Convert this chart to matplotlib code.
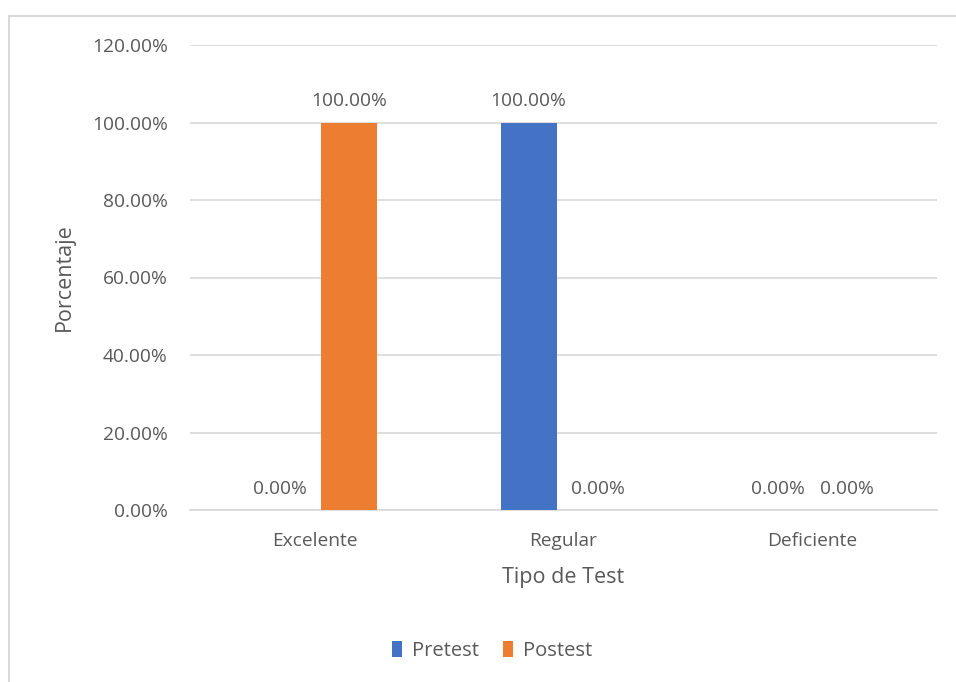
import matplotlib
matplotlib.use("Agg")
import matplotlib.pyplot as plt
from matplotlib.lines import Line2D
import numpy as np

categories = ["Excelente", "Regular", "Deficiente"]
pretest = [0.0, 100.0, 0.0]
postest = [100.0, 0.0, 0.0]
series_names = ["Pretest", "Postest"]
yticks = [0, 20, 40, 60, 80, 100, 120]

plt.rcParams['font.family'] = ['Open Sans', 'DejaVu Sans']
TXT = '#595959'
FS = 13.8

fig = plt.figure(figsize=(9.56, 6.82), dpi=100)
ax = fig.add_axes([190/956, 1-510/682, (937-190)/956, (510-45)/682])

x = np.arange(len(categories))
w = 0.225
off = 0.14
b1 = ax.bar(x - off, pretest, w, color='#4472C4', label=series_names[0], zorder=3)
b2 = ax.bar(x + off, postest, w, color='#ED7D31', label=series_names[1], zorder=3)
for bars in (b1, b2):
    for r in bars:
        h = r.get_height()
        ax.annotate(f"{h:.2f}%", (r.get_x() + r.get_width()/2, h), xytext=(0, 9),
                    textcoords='offset points', ha='center', va='bottom',
                    fontsize=FS, color=TXT)

ax.set_xlim(-0.5, 2.5)
ax.set_ylim(0, 120)
ax.set_yticks(yticks)
ax.set_yticklabels([f"{v:.2f}%" for v in yticks])
ax.set_xticks(x)
ax.set_xticklabels(categories)
ax.tick_params(axis='both', length=0, labelsize=FS, labelcolor=TXT)
ax.tick_params(axis='y', pad=16)
ax.tick_params(axis='x', pad=16)
ax.yaxis.grid(True, color='#D9D9D9', linewidth=1.2, zorder=0)
ax.set_axisbelow(True)
for s in ['top', 'right', 'left']:
    ax.spines[s].set_visible(False)
ax.spines['bottom'].set_color('#D9D9D9')
ax.spines['bottom'].set_linewidth(1.2)

ax.set_xlabel("Tipo de Test", fontsize=15.5, color=TXT, labelpad=12)
ax.set_ylabel("Porcentaje", fontsize=15.5, color=TXT, labelpad=12)

fig.legend(handles=[b1, b2], labels=series_names, loc='center', bbox_to_anchor=(492/956, 1-651/682),
           ncol=2, frameon=False, fontsize=14.5, labelcolor=TXT, handlelength=0.5, handleheight=0.8,
           handletextpad=0.5, columnspacing=1.2)

# chart frame (left and top edges visible)
fig.add_artist(Line2D([9/956, 9/956], [0, 1-16/682], transform=fig.transFigure, color='#D9D9D9', lw=1.5))
fig.add_artist(Line2D([9/956, 1], [1-16/682, 1-16/682], transform=fig.transFigure, color='#D9D9D9', lw=1.5))

fig.savefig("out.png", dpi=100)
